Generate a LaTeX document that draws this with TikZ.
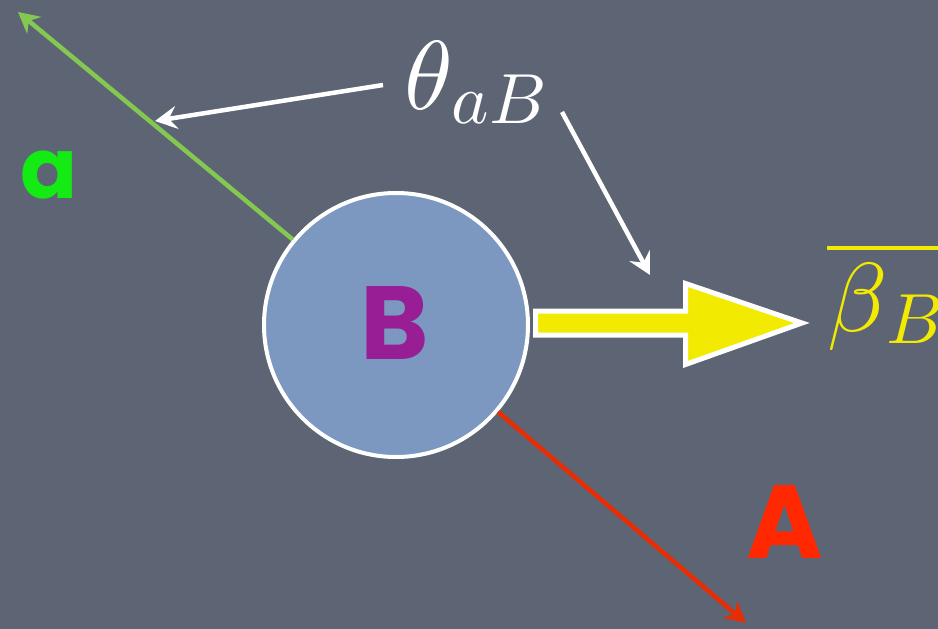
\documentclass[tikz,border=0pt]{standalone}
\usepackage{unicode-math}
\newfontfamily\hand{Poppins}
\usetikzlibrary{arrows.meta}
\definecolor{bg}{RGB}{93,100,116}
\definecolor{ballfill}{RGB}{124,152,192}
\definecolor{lgreen}{RGB}{132,200,82}
\definecolor{bgreen}{RGB}{20,235,20}
\definecolor{lred}{RGB}{232,45,5}
\definecolor{bred}{RGB}{255,40,0}
\definecolor{bpurple}{RGB}{152,30,150}
\definecolor{byellow}{RGB}{242,234,0}
\newcommand{\subtxt}[2]{\mbox{\raisebox{-#1pt}{\fontsize{71}{71}\selectfont$#2$}}}
\tikzset{
  ball/.style={circle, draw=white, line width=4pt, fill=ballfill, minimum size=264pt, inner sep=0pt},
  letter/.style={inner sep=0pt, font=\hand\bfseries\fontsize{104}{104}\selectfont},
  mathlbl/.style={inner sep=0pt, font=\fontsize{98}{98}\selectfont},
  ptr/.style={white, line width=4.5pt, -{Stealth[length=22pt, width=23pt, inset=8pt]}},
  axisline/.style={line width=4.5pt, -{Stealth[length=21pt, width=22pt, inset=7pt]}},
  blockarrow/.style={draw=white, line width=5pt, fill=byellow, line join=miter}
}
\begin{document}
\begin{tikzpicture}[x=1pt, y=-1pt]
\fill[bg] (0,0) rectangle (938,629);
\useasboundingbox (0,0) rectangle (938,629);

\node[ball] (B) at (396,325) {};
\node[letter, text=bpurple] (Bl) at (395,323) {B};

\coordinate (atip) at (18,12);
\coordinate (Atip) at (746,623);
\draw[axisline, lgreen] (B) -- (atip);
\draw[axisline, lred] (B) -- (Atip);

\node[letter, text=bgreen, font=\hand\bfseries\fontsize{84}{84}\selectfont] (al) at (49,175) {a};
\node[letter, text=bred] (Al) at (785,522) {A};

% yellow block arrow
\draw[blockarrow] (535.5,311) -- (685.5,311) -- (685.5,283.5) -- (802,323) -- (685.5,364.5) -- (685.5,335) -- (535.5,335) -- cycle;

\node[mathlbl, text=white, anchor=base west] (theta) at (404,109) {$\theta\subtxt{14}{aB}$};
\node[mathlbl, text=byellow, anchor=base west] (beta) at (827,331) {$\overline{\beta\subtxt{12}{B}}$};

\coordinate (t1) at (155,121);
\coordinate (t2) at (650,275);
\draw[ptr] ([shift={(-21,-24)}]theta.base west) -- (t1);
\draw[ptr] ([shift={(158,3)}]theta.base west) -- (t2);
\end{tikzpicture}
\end{document}
